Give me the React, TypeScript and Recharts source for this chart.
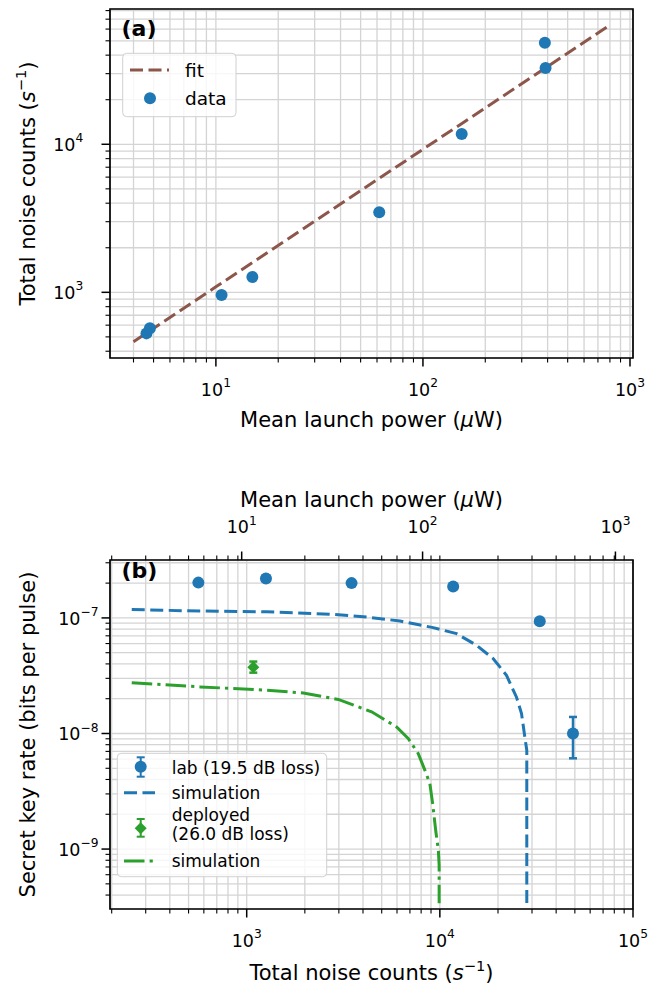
import React from "react";
import {
  CartesianGrid,
  ComposedChart,
  Customized,
  ErrorBar,
  Line,
  ReferenceArea,
  Scatter,
  XAxis,
  YAxis,
} from "recharts";

const FONT = "'DejaVu Sans', sans-serif";
const BLUE = "#1f77b4";
const GREEN = "#2ca02c";
const BROWN = "#8c564b";
const GRID = "#d4d4d4";

// ---- panel (a): total noise counts vs mean launch power
const launchPower = [4.62, 4.8, 10.65, 15.0, 61.5, 153.9, 388, 391];
const noiseCounts = [528, 571, 959, 1268, 3468, 11740, 48500, 32700];
const fitPower = [4, 10, 100, 780];
const fitCounts = [464, 1089, 9250, 62400];

const aXDomain: [number, number] = [3.08, 1034];
const aYDomain: [number, number] = [360, 82000];
const aXMajor = [10, 100, 1000];
const aXMajorExp = ["1", "2", "3"];
const aXMinor = [4, 5, 6, 7, 8, 9, 20, 30, 40, 50, 60, 70, 80, 90, 200, 300, 400, 500, 600, 700, 800, 900];
const aYMajor = [1000, 10000];
const aYMajorExp = ["3", "4"];
const aYMinor = [400, 500, 600, 700, 800, 900, 2000, 3000, 4000, 5000, 6000, 7000, 8000, 9000, 20000, 30000, 40000, 50000, 60000, 70000, 80000];

// ---- panel (b): secret key rate vs total noise counts
const labNoise = [562, 1258, 3490, 11720, 32900];
const labRate = [2.02e-7, 2.19e-7, 2.0e-7, 1.87e-7, 9.35e-8];
const labErrNoise = [48900];
const labErrRate = [1.0e-8];
const labErrLow = [0.39e-8];
const labErrHigh = [0.39e-8];
const deployedNoise = [1082];
const deployedRate = [3.75e-8];
const deployedErrLow = [0.39e-8];
const deployedErrHigh = [0.44e-8];

const labSimNoise = [254, 573, 1269, 2805, 4177, 6218, 9233, 12200, 15480, 18870, 22130, 24940, 26470, 27690, 28190, 28190];
const labSimRate = [1.18e-7, 1.147e-7, 1.129e-7, 1.074e-7, 1.018e-7, 9.4e-8, 8.24e-8, 7.31e-8, 5.8e-8, 4.45e-8, 3.19e-8, 2.06e-8, 1.49e-8, 8.75e-9, 7.17e-9, 3.4e-10];
const depSimNoise = [254, 573, 1269, 1963, 2978, 4433, 5970, 6855, 7723, 8364, 8876, 9200, 9535, 9822, 9917, 9917];
const depSimRate = [2.75e-8, 2.53e-8, 2.37e-8, 2.24e-8, 1.97e-8, 1.54e-8, 1.14e-8, 9.06e-9, 6.72e-9, 4.82e-9, 3.7e-9, 2.4e-9, 1.41e-9, 9.8e-10, 7.26e-10, 3.4e-10];

const bXDomain: [number, number] = [196, 100000];
const bYDomain: [number, number] = [3.03e-10, 3.17e-7];
const bXMajor = [1000, 10000, 100000];
const bXMajorExp = ["3", "4", "5"];
const bXMinor = [200, 300, 400, 500, 600, 700, 800, 900, 2000, 3000, 4000, 5000, 6000, 7000, 8000, 9000, 20000, 30000, 40000, 50000, 60000, 70000, 80000, 90000];
const bYMajor = [1e-9, 1e-8, 1e-7];
const bYMajorExp = ["\u22129", "\u22128", "\u22127"];
const bYMinor = [4e-10, 5e-10, 6e-10, 7e-10, 8e-10, 9e-10, 2e-9, 3e-9, 4e-9, 5e-9, 6e-9, 7e-9, 8e-9, 9e-9, 2e-8, 3e-8, 4e-8, 5e-8, 6e-8, 7e-8, 8e-8, 9e-8, 2e-7, 3e-7];
// secondary (launch power) axis, placed at noise-count equivalents
const bTopMajor = [942, 8139, 81100];
const bTopMajorExp = ["1", "2", "3"];
const bTopMinor = [200, 300, 400, 500, 600, 700, 800, 900, 2000, 3000, 4000, 5000, 6000, 7000, 9000, 10000, 20000, 30000, 40000, 50000, 60000, 70000, 80000, 90000];

const zip = (xs: number[], ys: number[]) => xs.map((x, i) => ({ x, y: ys[i] }));

type Side = "bottom" | "top" | "left";

const logTick = (side: Side, major: number[], exps: string[], gap: number) => (props: any) => {
  const { x, y, payload } = props;
  const v = Number(payload.value);
  const idx = major.findIndex((m) => Math.abs(v - m) / m < 1e-6);
  const isMajor = idx >= 0;
  const len = isMajor ? 8.5 : 4.5;
  const sw = isMajor ? 1.5 : 1.1;
  const fs = 17.5;
  const sup = (
    <tspan dy={-8.5} fontSize={12.25}>
      {exps[idx]}
    </tspan>
  );
  if (side === "left") {
    return (
      <g>
        <line x1={x} x2={x - len} y1={y} y2={y} stroke="#000" strokeWidth={sw} />
        {isMajor && (
          <text x={x - gap} y={y + 6.6} textAnchor="end" fontSize={fs} fontFamily={FONT} fill="#000">
            10{sup}
          </text>
        )}
      </g>
    );
  }
  const dir = side === "bottom" ? 1 : -1;
  return (
    <g>
      <line x1={x} x2={x} y1={y} y2={y + dir * len} stroke="#000" strokeWidth={sw} />
      {isMajor && (
        <text x={x} y={y + dir * gap} textAnchor="middle" fontSize={fs} fontFamily={FONT} fill="#000">
          10{sup}
        </text>
      )}
    </g>
  );
};

const circleShape = (color: string) => (p: any) => <circle cx={p.cx} cy={p.cy} r={6} fill={color} />;
const diamondShape = (color: string) => (p: any) => (
  <polygon
    points={`${p.cx},${p.cy - 6} ${p.cx + 6},${p.cy} ${p.cx},${p.cy + 6} ${p.cx - 6},${p.cy}`}
    fill={color}
  />
);

const PanelADecor = () => (
  <g fontFamily={FONT} fill="#000">
    <text x={121.5} y={36} fontSize={22} fontWeight="bold">
      (a)
    </text>
    <text x={371.5} y={427} fontSize={21} textAnchor="middle">
      Mean launch power (<tspan fontStyle="italic">μ</tspan>W)
    </text>
    <text transform="translate(35,183.5) rotate(-90)" fontSize={21} textAnchor="middle">
      Total noise counts (<tspan fontStyle="italic">s</tspan>
      <tspan dy={-9} fontSize={14.7}>
        −1
      </tspan>
      <tspan dy={9}>)</tspan>
    </text>
    <rect x={122.7} y={53.3} width={113.3} height={63.4} rx={4} fill="#fff" fillOpacity={0.8} stroke="#d0d0d0" />
    <line x1={130} x2={169} y1={70} y2={70} stroke={BROWN} strokeWidth={3} strokeDasharray="13 5.5" />
    <text x={185} y={76.7} fontSize={18.5}>
      fit
    </text>
    <circle cx={150} cy={98.3} r={6} fill={BLUE} />
    <text x={185} y={105} fontSize={18.5}>
      data
    </text>
  </g>
);

const PanelBDecor = () => (
  <g fontFamily={FONT} fill="#000">
    <text x={121.5} y={118} fontSize={22} fontWeight="bold">
      (b)
    </text>
    <text x={371.5} y={47} fontSize={21} textAnchor="middle">
      Mean launch power (<tspan fontStyle="italic">μ</tspan>W)
    </text>
    <text x={371.5} y={520} fontSize={21} textAnchor="middle">
      Total noise counts (<tspan fontStyle="italic">s</tspan>
      <tspan dy={-9} fontSize={14.7}>
        −1
      </tspan>
      <tspan dy={9}>)</tspan>
    </text>
    <text transform="translate(35,274.5) rotate(-90)" fontSize={21} textAnchor="middle">
      Secret key rate (bits per pulse)
    </text>
    <rect x={117.3} y={293.3} width={209.4} height={123.4} rx={4} fill="#fff" fillOpacity={0.8} stroke="#d0d0d0" />
    {/* lab entry */}
    <line x1={140.7} x2={140.7} y1={297.3} y2={316.7} stroke={BLUE} strokeWidth={2} />
    <line x1={136.7} x2={144.7} y1={297.3} y2={297.3} stroke={BLUE} strokeWidth={2} />
    <line x1={136.7} x2={144.7} y1={316.7} y2={316.7} stroke={BLUE} strokeWidth={2} />
    <circle cx={140.7} cy={306.7} r={6} fill={BLUE} />
    <text x={171.7} y={313.5} fontSize={17}>
      lab (19.5 dB loss)
    </text>
    <line x1={124} x2={155} y1={332.7} y2={332.7} stroke={BLUE} strokeWidth={3} strokeDasharray="13 5.5" />
    <text x={171.7} y={338.5} fontSize={17}>
      simulation
    </text>
    {/* deployed entry */}
    <line x1={140.7} x2={140.7} y1={359} y2={376.7} stroke={GREEN} strokeWidth={2} />
    <line x1={136.7} x2={144.7} y1={359} y2={359} stroke={GREEN} strokeWidth={2} />
    <line x1={136.7} x2={144.7} y1={376.7} y2={376.7} stroke={GREEN} strokeWidth={2} />
    <polygon points="140.7,362.3 146.7,368.3 140.7,374.3 134.7,368.3" fill={GREEN} />
    <text x={171.7} y={360.5} fontSize={17}>
      deployed
    </text>
    <text x={171.7} y={380} fontSize={17}>
      (26.0 dB loss)
    </text>
    <line x1={124} x2={155} y1={401} y2={401} stroke={GREEN} strokeWidth={3} strokeDasharray="20.5 5.1 3.2 5.1" />
    <text x={171.7} y={406.7} fontSize={17}>
      simulation
    </text>
  </g>
);

// axes keep their default-ish sizes; margins absorb the rest so the plot box lands where it should
const AX_H = 30;
const AX_W = 60;

function PanelA() {
  const pts = zip(launchPower, noiseCounts);
  const fit = zip(fitPower, fitCounts);
  return (
    <ComposedChart width={659} height={460} margin={{ top: 9, right: 26, bottom: 102 - AX_H, left: 110 - AX_W }}>
      <CartesianGrid stroke={GRID} strokeWidth={1.3} />
      <XAxis
        type="number"
        dataKey="x"
        scale="log"
        domain={aXDomain}
        allowDataOverflow
        ticks={[...aXMinor, ...aXMajor].sort((a, b) => a - b)}
        interval={0}
        height={AX_H}
        tickSize={0}
        tickMargin={0}
        axisLine={false}
        tickLine={false}
        tick={logTick("bottom", aXMajor, aXMajorExp, 37.5)}
      />
      <YAxis
        type="number"
        dataKey="y"
        scale="log"
        domain={aYDomain}
        allowDataOverflow
        ticks={[...aYMinor, ...aYMajor].sort((a, b) => a - b)}
        interval={0}
        width={AX_W}
        tickSize={0}
        tickMargin={0}
        axisLine={false}
        tickLine={false}
        tick={logTick("left", aYMajor, aYMajorExp, 26.7)}
      />
      <Line
        data={fit}
        dataKey="y"
        stroke={BROWN}
        strokeWidth={3}
        strokeDasharray="13 5.5"
        dot={false}
        isAnimationActive={false}
        type="linear"
      />
      <Scatter data={pts} dataKey="y" shape={circleShape(BLUE)} isAnimationActive={false} />
      <ReferenceArea
        x1={aXDomain[0]}
        x2={aXDomain[1]}
        y1={aYDomain[0]}
        y2={aYDomain[1]}
        fill="none"
        stroke="#000"
        strokeWidth={1.7}
        ifOverflow="visible"
      />
      <Customized component={PanelADecor} />
    </ComposedChart>
  );
}

function PanelB() {
  const lab = zip(labNoise, labRate);
  const labErr = labErrNoise.map((x, i) => ({ x, y: labErrRate[i], err: [labErrLow[i], labErrHigh[i]] }));
  const dep = deployedNoise.map((x, i) => ({ x, y: deployedRate[i], err: [deployedErrLow[i], deployedErrHigh[i]] }));
  const labSim = zip(labSimNoise, labSimRate);
  const depSim = zip(depSimNoise, depSimRate);
  return (
    <ComposedChart width={659} height={526} margin={{ top: 100 - AX_H, right: 26, bottom: 77 - AX_H, left: 110 - AX_W }}>
      <CartesianGrid stroke={GRID} strokeWidth={1.3} />
      <XAxis
        type="number"
        dataKey="x"
        scale="log"
        domain={bXDomain}
        allowDataOverflow
        ticks={[...bXMinor, ...bXMajor].sort((a, b) => a - b)}
        interval={0}
        height={AX_H}
        tickSize={0}
        tickMargin={0}
        axisLine={false}
        tickLine={false}
        tick={logTick("bottom", bXMajor, bXMajorExp, 37.5)}
      />
      <XAxis
        xAxisId="top"
        orientation="top"
        type="number"
        dataKey="x"
        scale="log"
        domain={bXDomain}
        allowDataOverflow
        ticks={[...bTopMinor, ...bTopMajor].sort((a, b) => a - b)}
        interval={0}
        height={AX_H}
        tickSize={0}
        tickMargin={0}
        axisLine={false}
        tickLine={false}
        tick={logTick("top", bTopMajor, bTopMajorExp, 27)}
      />
      <YAxis
        type="number"
        dataKey="y"
        scale="log"
        domain={bYDomain}
        allowDataOverflow
        ticks={[...bYMinor, ...bYMajor].sort((a, b) => a - b)}
        interval={0}
        width={AX_W}
        tickSize={0}
        tickMargin={0}
        axisLine={false}
        tickLine={false}
        tick={logTick("left", bYMajor, bYMajorExp, 11.5)}
      />
      <Line
        data={labSim}
        dataKey="y"
        stroke={BLUE}
        strokeWidth={3}
        strokeDasharray="13 5.5"
        dot={false}
        isAnimationActive={false}
        type="linear"
      />
      <Line
        data={depSim}
        dataKey="y"
        stroke={GREEN}
        strokeWidth={3}
        strokeDasharray="20.5 5.1 3.2 5.1"
        dot={false}
        isAnimationActive={false}
        type="linear"
      />
      <Scatter data={lab} dataKey="y" shape={circleShape(BLUE)} isAnimationActive={false} />
      <Scatter data={labErr} dataKey="y" shape={circleShape(BLUE)} isAnimationActive={false}>
        <ErrorBar dataKey="err" direction="y" width={4} strokeWidth={2.5} stroke={BLUE} isAnimationActive={false} />
      </Scatter>
      <Scatter data={dep} dataKey="y" shape={diamondShape(GREEN)} isAnimationActive={false}>
        <ErrorBar dataKey="err" direction="y" width={4} strokeWidth={2.5} stroke={GREEN} isAnimationActive={false} />
      </Scatter>
      <ReferenceArea
        x1={bXDomain[0]}
        x2={bXDomain[1]}
        y1={bYDomain[0]}
        y2={bYDomain[1]}
        fill="none"
        stroke="#000"
        strokeWidth={1.7}
        ifOverflow="visible"
      />
      <Customized component={PanelBDecor} />
    </ComposedChart>
  );
}

export default function App() {
  return (
    <div style={{ position: "absolute", left: 0, top: 0, width: 659, height: 986, background: "#fff", fontFamily: FONT }}>
      <PanelA />
      <PanelB />
    </div>
  );
}
